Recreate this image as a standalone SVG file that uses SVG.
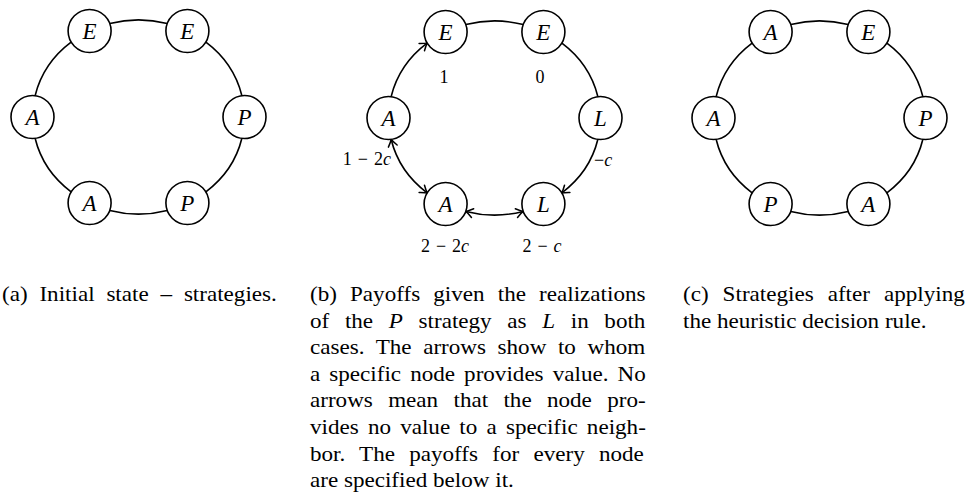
<svg xmlns="http://www.w3.org/2000/svg" width="967" height="495" viewBox="0 0 967 495">
<style>
.ring{fill:none;stroke:#000;stroke-width:1.6}
.node circle{fill:#fff;stroke:#000;stroke-width:1.6}
.node text{font-family:"Liberation Serif","Times New Roman",serif;font-style:italic;font-size:23px;text-anchor:middle}
.pay{font-family:"Liberation Serif","Times New Roman",serif;font-size:18px}
.pay .i{font-style:italic}
.cap{font-family:"Liberation Serif","Times New Roman",serif;font-size:21px}
.cap .i{font-style:italic}
</style>
<defs>
<marker id="ah" viewBox="-8 -6 10 12" markerWidth="10" markerHeight="12" refX="0" refY="0" orient="auto-start-reverse" markerUnits="userSpaceOnUse" overflow="visible">
<path d="M-7,-4.5 Q-2.5,-1 0,0 Q-2.5,1 -7,4.5" fill="none" stroke="#000" stroke-width="1.5" stroke-linecap="round"/>
</marker>
</defs>

<!-- (a) -->
<g id="diagram-a" transform="translate(138.5,117)">
<g id="connectors-a">
<path class="ring" d="M103.4,21.3 A106,97 0 0 1 67.1,75.1"/>
<path class="ring" d="M28.7,93.4 A106,97 0 0 1 -28.7,93.4"/>
<path class="ring" d="M-67.1,75.1 A106,97 0 0 1 -103.4,21.3"/>
<path class="ring" d="M-103.4,-21.3 A106,97 0 0 1 -67.1,-75.1"/>
<path class="ring" d="M-28.7,-93.4 A106,97 0 0 1 28.7,-93.4"/>
<path class="ring" d="M67.1,-75.1 A106,97 0 0 1 103.4,-21.3"/>
</g>
<g id="a-tl" class="node"><circle cx="-48.9" cy="-86" r="21.5"/><text x="-48.9" y="-78">E</text></g>
<g id="a-tr" class="node"><circle cx="48.9" cy="-86" r="21.5"/><text x="48.9" y="-78">E</text></g>
<g id="a-l" class="node"><circle cx="-106" cy="0" r="21.5"/><text x="-106" y="8">A</text></g>
<g id="a-r" class="node"><circle cx="106" cy="0" r="21.5"/><text x="106" y="8">P</text></g>
<g id="a-bl" class="node"><circle cx="-48.9" cy="86" r="21.5"/><text x="-48.9" y="94">A</text></g>
<g id="a-br" class="node"><circle cx="48.9" cy="86" r="21.5"/><text x="48.9" y="94">P</text></g>
</g>

<!-- (b) -->
<g id="diagram-b" transform="translate(494.5,118)">
<g id="connectors-b">
<path class="ring" d="M103.4,21.3 A106,97 0 0 1 67.1,75.1" marker-end="url(#ah)"/>
<path class="ring" d="M28.7,93.4 A106,97 0 0 1 -28.7,93.4" marker-start="url(#ah)" marker-end="url(#ah)"/>
<path class="ring" d="M-67.1,75.1 A106,97 0 0 1 -103.4,21.3" marker-start="url(#ah)" marker-end="url(#ah)"/>
<path class="ring" d="M-103.4,-21.3 A106,97 0 0 1 -67.1,-75.1" marker-end="url(#ah)"/>
<path class="ring" d="M-28.7,-93.4 A106,97 0 0 1 28.7,-93.4"/>
<path class="ring" d="M67.1,-75.1 A106,97 0 0 1 103.4,-21.3"/>
</g>
<g id="b-tl" class="node"><circle cx="-48.9" cy="-86" r="21.5"/><text x="-48.9" y="-78">E</text></g>
<g id="b-tr" class="node"><circle cx="48.9" cy="-86" r="21.5"/><text x="48.9" y="-78">E</text></g>
<g id="b-l" class="node"><circle cx="-106" cy="0" r="21.5"/><text x="-106" y="8">A</text></g>
<g id="b-r" class="node"><circle cx="106" cy="0" r="21.5"/><text x="106" y="8">L</text></g>
<g id="b-bl" class="node"><circle cx="-48.9" cy="86" r="21.5"/><text x="-48.9" y="94">A</text></g>
<g id="b-br" class="node"><circle cx="48.9" cy="86" r="21.5"/><text x="48.9" y="94">L</text></g>
</g>
<g id="payoffs-b" class="pay">
<text x="444" y="83" text-anchor="middle">1</text>
<text x="540" y="83" text-anchor="middle">0</text>
<text x="391" y="165" text-anchor="end" word-spacing="1.5">1 − 2<tspan class="i">c</tspan></text>
<text x="594" y="166">−<tspan class="i">c</tspan></text>
<text x="445" y="252" text-anchor="middle" word-spacing="1.5">2 − 2<tspan class="i">c</tspan></text>
<text x="542" y="252" text-anchor="middle" word-spacing="1.5">2 − <tspan class="i">c</tspan></text>
</g>

<!-- (c) -->
<g id="diagram-c" transform="translate(819.5,118)">
<g id="connectors-c">
<path class="ring" d="M103.4,21.3 A106,97 0 0 1 67.1,75.1"/>
<path class="ring" d="M28.7,93.4 A106,97 0 0 1 -28.7,93.4"/>
<path class="ring" d="M-67.1,75.1 A106,97 0 0 1 -103.4,21.3"/>
<path class="ring" d="M-103.4,-21.3 A106,97 0 0 1 -67.1,-75.1"/>
<path class="ring" d="M-28.7,-93.4 A106,97 0 0 1 28.7,-93.4"/>
<path class="ring" d="M67.1,-75.1 A106,97 0 0 1 103.4,-21.3"/>
</g>
<g id="c-tl" class="node"><circle cx="-48.9" cy="-86" r="21.5"/><text x="-48.9" y="-78">A</text></g>
<g id="c-tr" class="node"><circle cx="48.9" cy="-86" r="21.5"/><text x="48.9" y="-78">E</text></g>
<g id="c-l" class="node"><circle cx="-106" cy="0" r="21.5"/><text x="-106" y="8">A</text></g>
<g id="c-r" class="node"><circle cx="106" cy="0" r="21.5"/><text x="106" y="8">P</text></g>
<g id="c-bl" class="node"><circle cx="-48.9" cy="86" r="21.5"/><text x="-48.9" y="94">P</text></g>
<g id="c-br" class="node"><circle cx="48.9" cy="86" r="21.5"/><text x="48.9" y="94">A</text></g>
</g>

<!-- captions -->
<g id="captions" class="cap" transform="scale(1.1,1)">
<text x="1.8" y="301" word-spacing="5.5">(a) Initial state – strategies.</text>
<text x="281.8" y="301" word-spacing="6.7">(b) Payoffs given the realizations</text>
<text x="281.8" y="327.6" word-spacing="9">of the <tspan class="i">P</tspan> strategy as <tspan class="i">L</tspan> in both</text>
<text x="281.8" y="354.2" word-spacing="5.3">cases. The arrows show to whom</text>
<text x="281.8" y="380.8" word-spacing="3">a specific node provides value. No</text>
<text x="281.8" y="407.4" word-spacing="8.7">arrows mean that the node pro-</text>
<text x="281.8" y="434" word-spacing="3.1">vides no value to a specific neigh-</text>
<text x="281.8" y="460.6" word-spacing="7.7">bor. The payoffs for every node</text>
<text x="281.8" y="487.2">are specified below it.</text>
<text x="620.9" y="301" word-spacing="7.5">(c) Strategies after applying</text>
<text x="620.9" y="327.6">the heuristic decision rule.</text>
</g>
</svg>
